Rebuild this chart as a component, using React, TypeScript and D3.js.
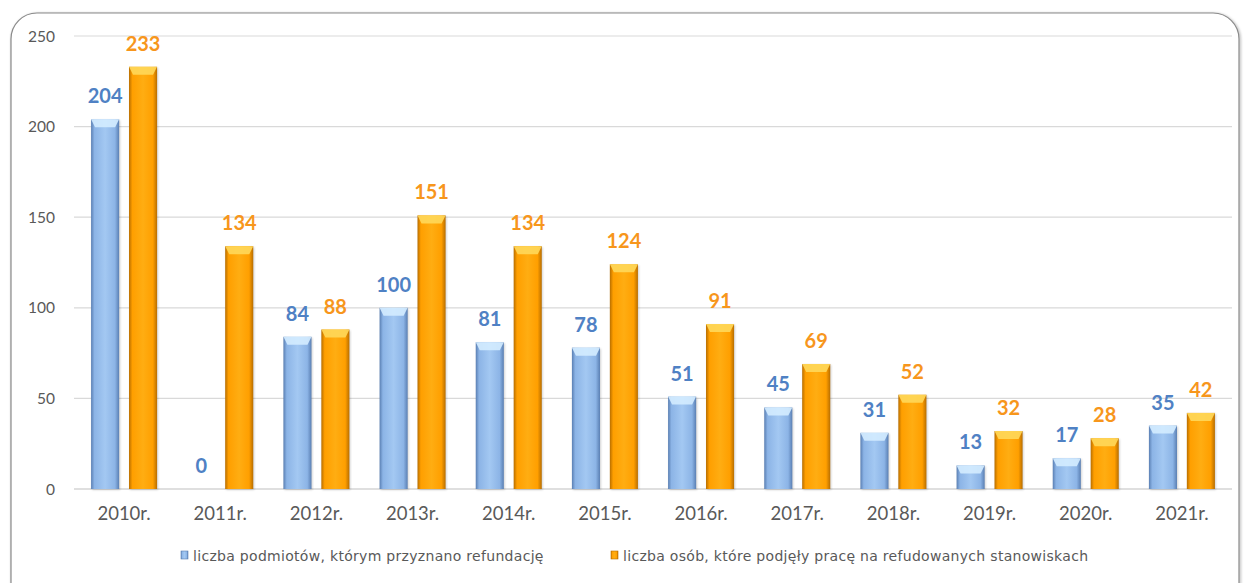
import React from "react";
import * as d3 from "d3";

// data
const years = ["2010r.", "2011r.", "2012r.", "2013r.", "2014r.", "2015r.", "2016r.", "2017r.", "2018r.", "2019r.", "2020r.", "2021r."];
const podmioty = [204, 0, 84, 100, 81, 78, 51, 45, 31, 13, 17, 35];
const osoby = [233, 134, 88, 151, 134, 124, 91, 69, 52, 32, 28, 42];
const yTicks = [0, 50, 100, 150, 200, 250];
const seriesNames = [
  "liczba podmiotów, którym przyznano refundację",
  "liczba osób, które podjęły pracę na refudowanych stanowiskach",
];

const W = 1245;
const H = 583;
const FONT = "Lato, 'Open Sans', sans-serif";
const LEGEND_FONT = "'DejaVu Sans', Verdana, sans-serif";

const series = [
  { key: "a", values: podmioty, dark: "#5a7fb3", mid: "#8cb4e6", light: "#a3c8f2", top: "#d4ecff", label: "#4f81c4" },
  { key: "b", values: osoby, dark: "#b86e00", mid: "#ff9f00", light: "#ffad12", top: "#ffd85a", label: "#f7961c" },
];

export default function App() {
  const x = d3.scaleBand<string>().domain(years).range([76, 1230]);
  const inner = d3.scaleBand<string>().domain(["a", "b"]).range([-33, 33]).paddingInner(0.26);
  const y = d3.scaleLinear().domain([0, 250]).range([489, 36]);
  const bw = inner.bandwidth();

  return (
    <svg width={W} height={H} style={{ position: "absolute", left: 0, top: 0, background: "#fff" }}>
      <defs>
        {series.map((s) => (
          <linearGradient key={s.key} id={`g-${s.key}`} x1="0" x2="1" y1="0" y2="0">
            <stop offset="0" stopColor={s.dark} />
            <stop offset="0.12" stopColor={s.mid} />
            <stop offset="0.5" stopColor={s.light} />
            <stop offset="0.85" stopColor={s.mid} />
            <stop offset="1" stopColor={s.dark} />
          </linearGradient>
        ))}
        <filter id="sh" x="-5%" y="-5%" width="110%" height="110%">
          <feGaussianBlur stdDeviation="1" />
        </filter>
      </defs>

      {/* frame */}
      <rect x={12} y={14} width={1228} height={600} rx={26} fill="none" stroke="#c8c8c8" strokeWidth={2.5} filter="url(#sh)" />
      <rect x={11} y={13} width={1228} height={600} rx={26} fill="#fff" stroke="#8a8a8a" strokeWidth={1.2} />

      {/* gridlines */}
      {yTicks.map((t) => (
        <line key={t} x1={74} x2={1232} y1={y(t)} y2={y(t)} stroke={t === 0 ? "#bfbfbf" : "#d9d9d9"} strokeWidth={1.2} />
      ))}
      {yTicks.map((t) => (
        <text key={"yl" + t} x={55} y={y(t) + 5.5} textAnchor="end" fontFamily={FONT} fontSize={15.5} fill="#595959">
          {t}
        </text>
      ))}

      {/* bars */}
      {years.map((yr, i) => {
        const cx = (x(yr) ?? 0) + x.bandwidth() / 2;
        return (
          <g key={yr}>
            {series.map((s) => {
              const v = s.values[i];
              const x0 = cx + (inner(s.key) ?? 0);
              const y0 = y(v);
              const h = y(0) - y0;
              const bev = Math.min(8, h / 2);
              return (
                <g key={s.key}>
                  {h > 0 && (
                    <>
                      <rect x={x0 + 1} y={y0 + 1} width={bw} height={h} fill="#000" opacity={0.18} filter="url(#sh)" />
                      <rect x={x0} y={y0} width={bw} height={h} fill={`url(#g-${s.key})`} />
                      <path
                        d={`M${x0},${y0}L${x0 + bw},${y0}L${x0 + bw - 4},${y0 + bev}L${x0 + 4},${y0 + bev}Z`}
                        fill={s.top}
                        opacity={0.9}
                      />
                    </>
                  )}
                  <text
                    x={x0 + bw / 2}
                    y={y0 - 16}
                    textAnchor="middle"
                    fontFamily={FONT}
                    fontWeight="bold"
                    fontSize={20}
                    fill={s.label}
                  >
                    {v}
                  </text>
                </g>
              );
            })}
            <text x={cx} y={520} textAnchor="middle" fontFamily={FONT} fontSize={18.5} fill="#595959">
              {yr}
            </text>
          </g>
        );
      })}

      {/* legend */}
      {[
        { s: series[0], x: 181, name: seriesNames[0] },
        { s: series[1], x: 611, name: seriesNames[1] },
      ].map((l) => (
        <g key={l.name}>
          <rect x={l.x} y={551} width={7} height={8} fill={`url(#g-${l.s.key})`} stroke={l.s.dark} strokeWidth={0.6} />
          <text x={l.x + 12} y={561} fontFamily={LEGEND_FONT} fontSize={14} letterSpacing={0.3} fill="#595959">
            {l.name}
          </text>
        </g>
      ))}
    </svg>
  );
}
